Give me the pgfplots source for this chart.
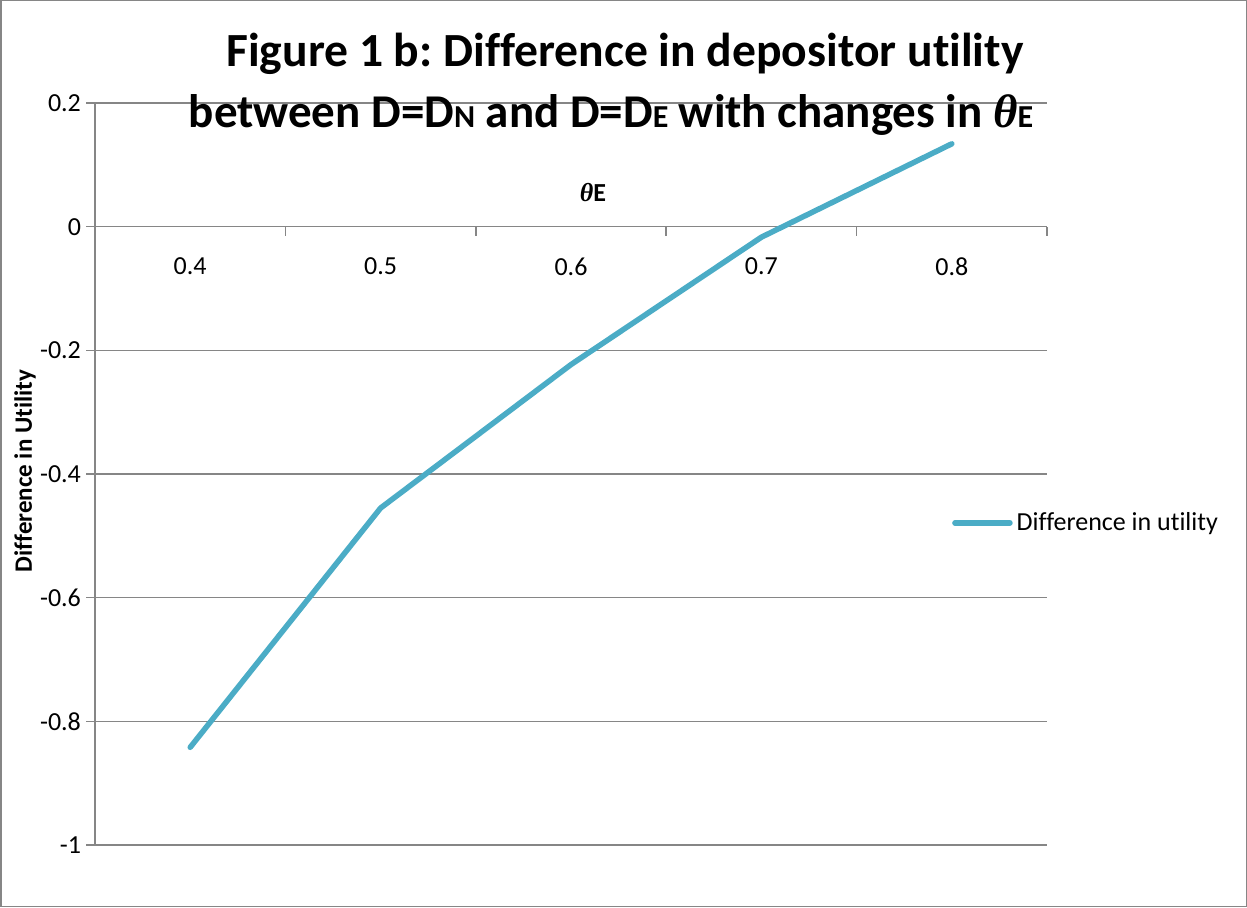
\documentclass[border=0pt]{standalone}
\usepackage{pgfplots}
\pgfplotsset{compat=1.18}
\usepackage{fontspec}
\setmainfont{Carlito}[Ligatures=NoCommon]
\newfontfamily\serifth{Liberation Serif}
\definecolor{excelblue}{RGB}{75,172,198}
\definecolor{gridgray}{RGB}{134,134,134}
\frenchspacing
\begin{document}
\begin{tikzpicture}
\path[use as bounding box] (0,0) rectangle (623.5pt,453.5pt);
\draw[gridgray, line width=0.75pt] (0.375pt,0.375pt) rectangle (623.125pt,453.125pt);
\begin{axis}[
  at={(47.5pt,31pt)}, anchor=south west,
  scale only axis, width=476pt, height=371pt,
  xmin=-0.5, xmax=4.5, ymin=-1, ymax=0.2,
  axis x line*=middle, axis y line*=left,
  axis line style={gridgray, line width=0.75pt},
  xtick={-0.5,0.5,1.5,2.5,3.5,4.5}, xticklabels={},
  extra x ticks={0,1,2,3,4},
  extra x tick labels={0.4,0.5,0.6,0.7,0.8},
  extra x tick style={major tick length=0pt, tick label style={yshift=-12pt}},
  ytick={-1,-0.8,-0.6,-0.4,-0.2,0,0.2},
  yticklabels={-1,-0.8,-0.6,-0.4,-0.2,0,0.2},
  yticklabel style={xshift=1pt},
  ymajorgrids, grid style={gridgray, line width=0.75pt},
  tick style={gridgray, line width=0.75pt},
  major tick length=4.5pt, tick align=outside,
  tick label style={font=\fontsize{13}{15}\selectfont, black},
  legend style={at={(0.900,0.434)}, anchor=west, draw=none, fill=none, inner sep=0pt,
    font=\fontsize{13}{15}\selectfont},
  legend image code/.code={\draw[#1] (0pt,0pt) -- (27.5pt,0pt);},
]
\addplot[excelblue, line width=2.75pt, line cap=round, line join=round]
  coordinates {(0,-0.842) (1,-0.455) (2,-0.223) (3,-0.017) (4,0.134)};
\addlegendentry{Difference in utility}
\end{axis}
\node[anchor=base, font=\bfseries\fontsize{23.8}{28}\selectfont] at (312.5pt,420pt) {Figure 1 b: Difference in depositor utility};
\node[anchor=base, font=\bfseries\fontsize{23.5}{28}\selectfont] at (305.5pt,389.5pt) {between D=D{\fontsize{16}{18}\selectfont N} and D=D{\fontsize{16}{18}\selectfont E} with changes in {\serifth\itshape θ}{\fontsize{16}{18}\selectfont E}};
\node[rotate=90, font=\bfseries\fontsize{12.5}{15}\selectfont] at (12.5pt,218pt) {Difference in Utility};
\node[font=\bfseries\fontsize{13}{15}\selectfont] at (296.5pt,357pt) {{\serifth\itshape θ}E};
\end{tikzpicture}
\end{document}
